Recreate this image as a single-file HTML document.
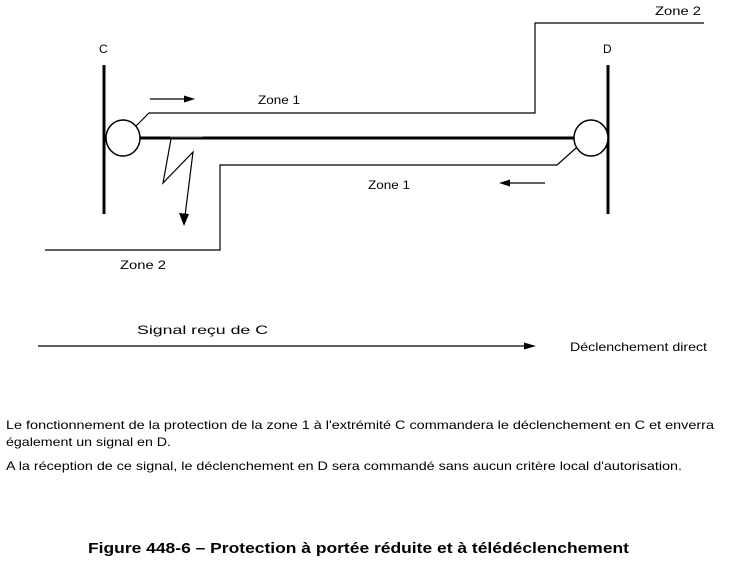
<!DOCTYPE html>
<html><head><meta charset="utf-8"><style>html,body{margin:0;padding:0;background:#fff}svg{display:block}</style></head>
<body>
<svg width="729" height="570" viewBox="0 0 729 570" xmlns="http://www.w3.org/2000/svg" font-family="Liberation Sans, sans-serif" fill="#000">
<g stroke="#000" fill="none">
<line x1="104" y1="65" x2="104" y2="214" stroke-width="3"/>
<line x1="608" y1="65" x2="608" y2="214" stroke-width="3"/>
<line x1="140" y1="138" x2="575" y2="138" stroke-width="3"/>
<ellipse cx="123" cy="138" rx="17" ry="18" fill="#fff" stroke-width="1.5"/>
<ellipse cx="591" cy="138" rx="17" ry="18" fill="#fff" stroke-width="1.5"/>
<polyline points="136,126 149,113 535,113 535,23 704,23" stroke-width="1.2"/>
<polyline points="576,148 557,165 220,165 220,250 45,250" stroke-width="1.2"/>
<line x1="170" y1="137" x2="203" y2="137" stroke-width="1" stroke="#555"/>
<polyline points="171,139 163,183 193,152 185,216" stroke-width="1.2"/>
<line x1="150" y1="99" x2="185" y2="99" stroke-width="1.2"/>
<line x1="510" y1="183" x2="545" y2="183" stroke-width="1.2"/>
<line x1="38" y1="346" x2="525" y2="346" stroke-width="1.2"/>
</g>
<polygon points="195,99 184,95.5 184,102.5"/>
<polygon points="499,183 510,179.5 510,186.5"/>
<polygon points="184,226 179,213 189,214"/>
<polygon points="536,346 524,342.5 524,349.5"/>
<g font-size="12">
<text x="99" y="53">C</text>
<text x="603" y="53">D</text>
<text x="655" y="15" textLength="46" lengthAdjust="spacingAndGlyphs">Zone 2</text>
<text x="258" y="104" textLength="42" lengthAdjust="spacingAndGlyphs">Zone 1</text>
<text x="368" y="189" textLength="42" lengthAdjust="spacingAndGlyphs">Zone 1</text>
<text x="120" y="269" textLength="46" lengthAdjust="spacingAndGlyphs">Zone 2</text>
<text x="137" y="334" textLength="131" lengthAdjust="spacingAndGlyphs">Signal reçu de C</text>
<text x="570" y="351" textLength="137" lengthAdjust="spacingAndGlyphs">Déclenchement direct</text>
<text x="6" y="429" textLength="708" lengthAdjust="spacingAndGlyphs">Le fonctionnement de la protection de la zone 1 à l'extrémité C commandera le déclenchement en C et enverra</text>
<text x="6" y="446" textLength="165" lengthAdjust="spacingAndGlyphs">également un signal en D.</text>
<text x="6" y="470" textLength="676" lengthAdjust="spacingAndGlyphs">A la réception de ce signal, le déclenchement en D sera commandé sans aucun critère local d'autorisation.</text>
</g>
<text x="88" y="553" font-size="15" font-weight="bold" textLength="541" lengthAdjust="spacingAndGlyphs">Figure 448-6 – Protection à portée réduite et à télédéclenchement</text>
</svg>
</body></html>
